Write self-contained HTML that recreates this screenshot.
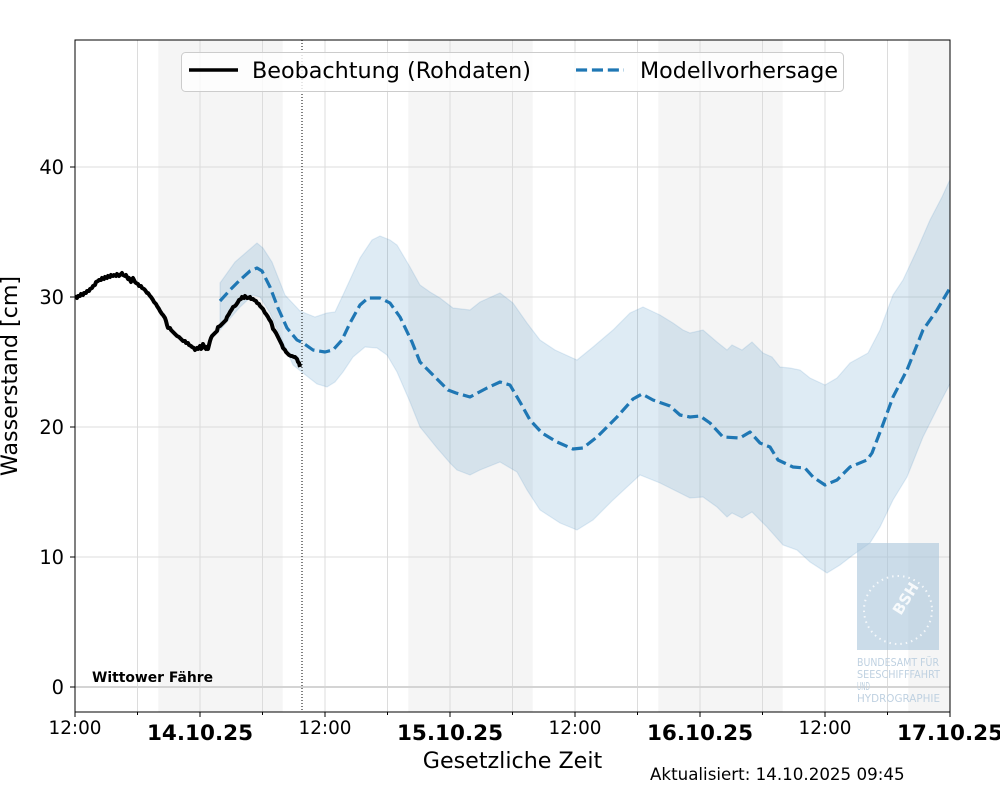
<!DOCTYPE html>
<html>
<head>
<meta charset="utf-8">
<style>
html,body{margin:0;padding:0;background:#fff;}
svg{display:block;}
text{font-family:"DejaVu Sans","Liberation Sans",sans-serif;}
</style>
</head>
<body>
<svg width="1000" height="800" viewBox="0 0 1000 800" xmlns="http://www.w3.org/2000/svg">
<defs>
<clipPath id="pa"><rect x="75" y="40" width="875" height="672"/></clipPath>
</defs>
<rect x="0" y="0" width="1000" height="800" fill="#fff"/>
<g clip-path="url(#pa)">
<!-- night shading -->
<rect x="158.3" y="40" width="124.4" height="672" fill="#f5f5f5"/>
<rect x="408.3" y="40" width="124.4" height="672" fill="#f5f5f5"/>
<rect x="658.3" y="40" width="124.4" height="672" fill="#f5f5f5"/>
<rect x="908.3" y="40" width="50" height="672" fill="#f5f5f5"/>
<!-- grid -->
<g stroke="#dcdcdc" stroke-width="1">
<line x1="137.5" y1="40" x2="137.5" y2="712"/>
<line x1="200" y1="40" x2="200" y2="712"/>
<line x1="262.5" y1="40" x2="262.5" y2="712"/>
<line x1="325" y1="40" x2="325" y2="712"/>
<line x1="387.5" y1="40" x2="387.5" y2="712"/>
<line x1="450" y1="40" x2="450" y2="712"/>
<line x1="512.5" y1="40" x2="512.5" y2="712"/>
<line x1="575" y1="40" x2="575" y2="712"/>
<line x1="637.5" y1="40" x2="637.5" y2="712"/>
<line x1="700" y1="40" x2="700" y2="712"/>
<line x1="762.5" y1="40" x2="762.5" y2="712"/>
<line x1="825" y1="40" x2="825" y2="712"/>
<line x1="887.5" y1="40" x2="887.5" y2="712"/>
<line x1="75" y1="557" x2="950" y2="557"/>
<line x1="75" y1="427" x2="950" y2="427"/>
<line x1="75" y1="297" x2="950" y2="297"/>
<line x1="75" y1="167" x2="950" y2="167"/>
</g>
<line x1="75" y1="687" x2="950" y2="687" stroke="#d4d4d4" stroke-width="2"/>
<!-- uncertainty band -->
<path d="M220,283 L235,262 L257,243 L263,248 L272,262 L285,295 L300,311 L315,317 L327,313 L335,312 L343,295 L360,258 L372,240 L380,236 L390,240 L397,245 L410,267 L420,285 L430,292 L440,298 L453,308 L470,310 L480,302 L500,293 L513,303 L527,323 L540,340 L555,350 L577,360 L593,347 L613,330 L630,313 L643,307 L660,315 L673,323 L683,330 L690,333 L703,330 L717,342 L727,350 L732,345 L742,350 L752,342 L763,353 L772,357 L780,367 L790,368 L800,370 L810,378 L825,385 L837,378 L850,363 L868,353 L880,330 L893,295 L903,280 L917,250 L930,220 L942,197 L952,175 L952,380 L940,403 L923,437 L907,477 L893,500 L880,527 L870,543 L853,555 L840,565 L827,573 L810,562 L797,550 L783,545 L767,527 L752,512 L742,518 L732,513 L727,517 L717,507 L703,497 L690,498 L680,493 L660,483 L640,475 L613,500 L593,520 L577,530 L560,523 L540,510 L527,490 L517,472 L500,462 L480,470 L470,475 L457,470 L450,463 L437,448 L420,427 L410,402 L397,372 L387,355 L377,348 L365,347 L353,357 L343,372 L335,382 L327,387 L317,384 L303,373 L293,365 L282,340 L270,313 L260,297 L253,295 L240,307 L220,330 Z" fill="#1f77b4" fill-opacity="0.15" stroke="#1f77b4" stroke-opacity="0.12" stroke-width="1.2"/>
<!-- logo -->
<rect x="857" y="543" width="82" height="107" fill="#a9c4da" fill-opacity="0.6"/>
<circle cx="898" cy="610" r="34" fill="none" stroke="#ffffff" stroke-opacity="0.8" stroke-width="2" stroke-dasharray="1.5 4"/>
<text x="905" y="604" font-size="15" font-weight="bold" fill="#ffffff" fill-opacity="0.85" text-anchor="middle" transform="rotate(-58 905 598)">BSH</text>
<!-- observation -->
<polyline fill="none" stroke="#000" stroke-width="4" stroke-linejoin="round" stroke-linecap="butt" points="75,299 76,297 77,298 78,296 80,296 81,294 83,295 84,293 86,293 87,291 89,291 90,289 92,288 93,286 95,285 96,282 98,281 99,280 101,280 102,278 104,279 105,277 107,278 108,276 110,277 111,275 113,276 114,275 116,276 117,274 119,276 120,275 122,273 123,275 125,276 126,275 128,279 129,278 131,282 132,279 133,278 135,282 136,283 138,284 139,286 141,286 142,288 144,289 145,290 147,293 148,293 150,296 151,297 153,300 154,302 156,304 157,306 159,309 160,311 162,314 163,315 165,318 166,321 167,325 168,328 170,328 171,330 173,332 174,333 176,335 177,336 179,337 180,338 182,340 183,341 185,341 186,343 188,343 189,345 191,346 192,347 194,348 195,350 197,348 198,349 200,346 201,349 202,348 203,344 204,346 206,349 207,347 208,349 209,345 210,341 211,338 212,336 213,335 214,334 216,332 217,331 218,327 220,326 221,325 223,323 224,322 226,320 227,317 229,314 230,312 232,309 233,307 235,306 236,305 238,302 239,300 241,299 242,297 244,298 245,296 247,298 248,298 250,297 251,299 253,299 254,300 256,301 257,303 259,304 260,306 262,308 263,309 265,313 266,314 268,317 269,319 271,322 272,325 273,329 274,330 276,333 277,335 279,339 280,341 282,345 283,348 285,350 286,352 288,354 289,355 291,356 292,356 294,357 295,357 297,359 298,362 299,363 300,367"/>
<!-- forecast -->
<polyline fill="none" stroke="#1f77b4" stroke-width="3.2" stroke-dasharray="11.1 4.8" stroke-linejoin="round" points="220,301 230,290 240,280 250,271 257,268 262,271 270,287 278,308 287,328 297,340 303,343 313,350 325,352 333,350 342,340 350,323 360,305 368,298 380,298 390,303 400,317 412,342 420,362 433,375 448,390 456,393 470,397 487,388 500,382 510,385 520,402 530,420 542,433 557,442 573,449 583,448 597,437 617,417 633,399 642,394 653,400 670,406 680,415 690,417 700,416 710,423 723,437 740,438 750,432 760,443 770,447 778,460 793,467 805,468 813,477 825,485 837,480 850,467 867,460 872,453 882,427 893,397 907,370 923,330 937,310 950,288"/>
<!-- now line -->
<line x1="302" y1="40" x2="302" y2="712" stroke="#000" stroke-width="1" stroke-dasharray="1 2"/>
</g>
<!-- logo text -->
<g font-size="11" fill="#bfd1e1" lengthAdjust="spacingAndGlyphs">
<text x="857" y="666" textLength="82" lengthAdjust="spacingAndGlyphs">BUNDESAMT FÜR</text>
<text x="857" y="678" textLength="83" lengthAdjust="spacingAndGlyphs">SEESCHIFFFAHRT</text>
<text x="857" y="690" textLength="13" lengthAdjust="spacingAndGlyphs">UND</text>
<text x="857" y="702" textLength="83" lengthAdjust="spacingAndGlyphs">HYDROGRAPHIE</text>
</g>
<!-- station name -->
<text x="92" y="682" font-size="13.9" font-weight="bold" fill="#000">Wittower Fähre</text>
<!-- legend -->
<rect x="181.5" y="52.5" width="662" height="39" rx="4" ry="4" fill="#fff" fill-opacity="0.8" stroke="#cccccc" stroke-width="1"/>
<line x1="189" y1="70" x2="238" y2="70" stroke="#000" stroke-width="3.5"/>
<text x="252" y="78" font-size="22.2" fill="#000" textLength="279" lengthAdjust="spacingAndGlyphs">Beobachtung (Rohdaten)</text>
<line x1="576" y1="70" x2="624" y2="70" stroke="#1f77b4" stroke-width="3.2" stroke-dasharray="11.1 4.8"/>
<text x="640" y="78" font-size="22.2" fill="#000" textLength="198" lengthAdjust="spacingAndGlyphs">Modellvorhersage</text>
<!-- spines -->
<rect x="75" y="40" width="875" height="672" fill="none" stroke="#000" stroke-width="1"/>
<!-- y ticks -->
<g stroke="#000" stroke-width="1">
<line x1="70" y1="687" x2="75" y2="687"/>
<line x1="70" y1="557" x2="75" y2="557"/>
<line x1="70" y1="427" x2="75" y2="427"/>
<line x1="70" y1="297" x2="75" y2="297"/>
<line x1="70" y1="167" x2="75" y2="167"/>
</g>
<g font-size="19.4" fill="#000" text-anchor="end">
<text x="64" y="694">0</text>
<text x="64" y="564">10</text>
<text x="64" y="434">20</text>
<text x="64" y="304">30</text>
<text x="64" y="174">40</text>
</g>
<!-- x ticks -->
<g stroke="#000" stroke-width="1">
<line x1="75" y1="712" x2="75" y2="717"/>
<line x1="137.5" y1="712" x2="137.5" y2="715"/>
<line x1="200" y1="712" x2="200" y2="717"/>
<line x1="262.5" y1="712" x2="262.5" y2="715"/>
<line x1="325" y1="712" x2="325" y2="717"/>
<line x1="387.5" y1="712" x2="387.5" y2="715"/>
<line x1="450" y1="712" x2="450" y2="717"/>
<line x1="512.5" y1="712" x2="512.5" y2="715"/>
<line x1="575" y1="712" x2="575" y2="717"/>
<line x1="637.5" y1="712" x2="637.5" y2="715"/>
<line x1="700" y1="712" x2="700" y2="717"/>
<line x1="762.5" y1="712" x2="762.5" y2="715"/>
<line x1="825" y1="712" x2="825" y2="717"/>
<line x1="887.5" y1="712" x2="887.5" y2="715"/>
<line x1="950" y1="712" x2="950" y2="717"/>
</g>
<g font-size="18.4" fill="#000" text-anchor="middle">
<text x="75" y="734">12:00</text>
<text x="325" y="734">12:00</text>
<text x="575" y="734">12:00</text>
<text x="825" y="734">12:00</text>
</g>
<g font-size="21.5" font-weight="bold" fill="#000" text-anchor="middle">
<text x="200" y="740">14.10.25</text>
<text x="450" y="740">15.10.25</text>
<text x="700" y="740">16.10.25</text>
<text x="950" y="740">17.10.25</text>
</g>
<!-- axis labels -->
<text x="512.5" y="768" font-size="22.2" fill="#000" text-anchor="middle">Gesetzliche Zeit</text>
<text x="0" y="0" font-size="22.2" fill="#000" text-anchor="middle" transform="translate(17 376) rotate(-90)">Wasserstand [cm]</text>
<text x="650" y="780" font-size="16.7" fill="#000">Aktualisiert: 14.10.2025 09:45</text>
</svg>
</body>
</html>
